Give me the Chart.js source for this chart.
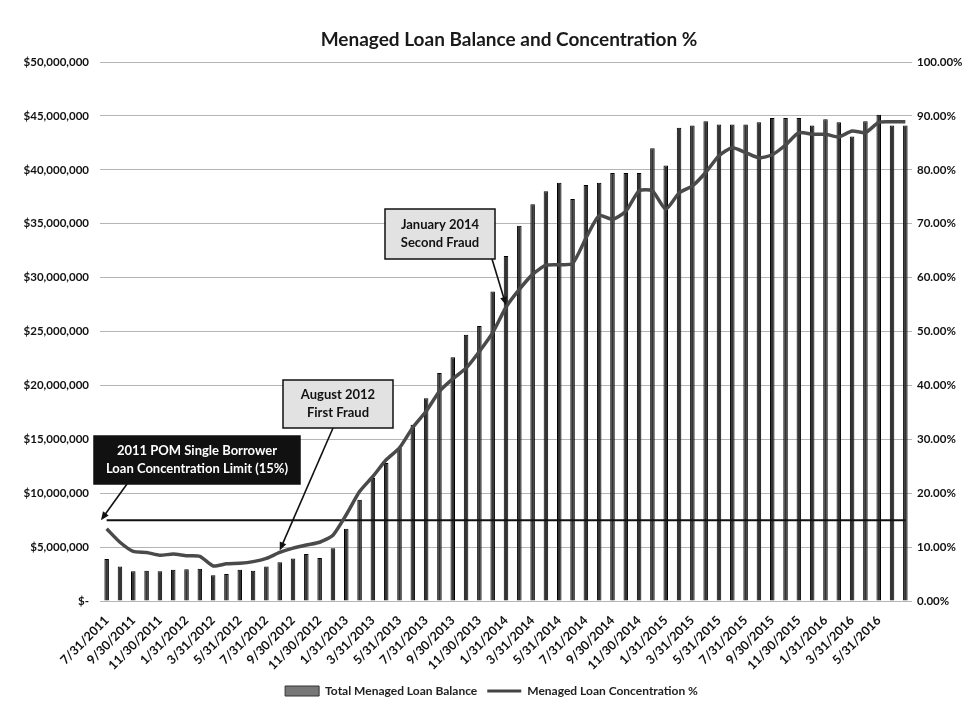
<!DOCTYPE html>
<html>
<head>
<meta charset="utf-8">
<script src="https://cdn.jsdelivr.net/npm/chart.js@4.4.0/dist/chart.umd.min.js"></script>
<style>
  html, body { margin: 0; padding: 0; background: #fff; }
  #wrap { width: 969px; height: 709px; }
</style>
</head>
<body>
<div id="wrap"><canvas id="loanChart" width="969" height="709"></canvas></div>
<script>
// month-end dates, 7/2011 - 7/2016
const months = [
  '7/31/2011', '8/31/2011', '9/30/2011', '10/31/2011', '11/30/2011', '12/31/2011',
  '1/31/2012', '2/29/2012', '3/31/2012', '4/30/2012', '5/31/2012', '6/30/2012',
  '7/31/2012', '8/31/2012', '9/30/2012', '10/31/2012', '11/30/2012', '12/31/2012',
  '1/31/2013', '2/28/2013', '3/31/2013', '4/30/2013', '5/31/2013', '6/30/2013',
  '7/31/2013', '8/31/2013', '9/30/2013', '10/31/2013', '11/30/2013', '12/31/2013',
  '1/31/2014', '2/28/2014', '3/31/2014', '4/30/2014', '5/31/2014', '6/30/2014',
  '7/31/2014', '8/31/2014', '9/30/2014', '10/31/2014', '11/30/2014', '12/31/2014',
  '1/31/2015', '2/28/2015', '3/31/2015', '4/30/2015', '5/31/2015', '6/30/2015',
  '7/31/2015', '8/31/2015', '9/30/2015', '10/31/2015', '11/30/2015', '12/31/2015',
  '1/31/2016', '2/29/2016', '3/31/2016', '4/30/2016', '5/31/2016', '6/30/2016',
  '7/31/2016'
];

// labels printed under the axis (every other month, as in the original)
const shownLabels = [
  '7/31/2011', '9/30/2011', '11/30/2011', '1/31/2012', '3/31/2012', '5/31/2012',
  '7/31/2012', '9/30/2012', '11/30/2012', '1/31/2013', '3/31/2013', '5/31/2013',
  '7/31/2013', '9/30/2013', '11/30/2013', '1/31/2014', '3/31/2014', '5/31/2014',
  '7/31/2014', '9/30/2014', '11/30/2014', '1/31/2015', '3/31/2015', '5/31/2015',
  '7/31/2015', '9/30/2015', '11/30/2015', '1/31/2016', '3/31/2016', '5/31/2016'
];

// Total Menaged Loan Balance ($)
const loanBalance = [
  3900000, 3200000, 2750000, 2800000, 2750000, 2900000,
  2950000, 3000000, 2400000, 2500000, 2900000, 2800000,
  3200000, 3600000, 3950000, 4350000, 4000000, 4900000,
  6700000, 9400000, 11400000, 12800000, 14200000, 16350000,
  18800000, 21150000, 22600000, 24700000, 25500000, 28700000,
  32000000, 34800000, 36800000, 38000000, 38800000, 37300000,
  38600000, 38800000, 39700000, 39700000, 39700000, 42000000,
  40400000, 43900000, 44100000, 44500000, 44200000, 44200000,
  44200000, 44400000, 44800000, 44800000, 44800000, 44100000,
  44700000, 44400000, 43100000, 44500000, 45100000, 44100000,
  44100000
];

// Menaged Loan Concentration (%)
const concentrationPct = [
  13.4, 10.9, 9.2, 9.0, 8.5, 8.7,
  8.4, 8.3, 6.5, 6.9, 7.0, 7.3,
  7.9, 9.0, 9.8, 10.4, 10.9, 12.2,
  16.0, 20.3, 23.1, 26.2, 28.4, 32.2,
  35.2, 38.9, 41.2, 43.2, 46.3, 49.8,
  54.5, 57.8, 60.6, 62.3, 62.4, 62.6,
  67.3, 71.5, 70.8, 72.3, 76.1, 76.1,
  72.7, 75.7, 77.0, 79.5, 82.6, 84.1,
  83.2, 82.2, 82.8, 84.6, 86.9, 86.6,
  86.6, 86.1, 87.2, 86.9, 88.8, 88.9,
  88.9
];

// 2011 POM single borrower limit
const limitLine = [
  { x: '7/31/2011', y: 15 },
  { x: '7/31/2016', y: 15 }
];

const leftTicks = { min: 0, max: 50000000, step: 5000000 };
const rightTicks = { min: 0, max: 100, step: 10 };

const FONT = 'Lato, "Open Sans", sans-serif';

// callout boxes: box = [x, y, w, h], target = month index on the % line or 'limit'
const callouts = [
  { lines: ['2011 POM Single Borrower', 'Loan Concentration Limit (15%)'],
    box: [94, 436, 206, 48], fill: '#111', color: '#fff', from: [127, 484], target: 'limit' },
  { lines: ['August 2012', 'First Fraud'],
    box: [283, 380, 110, 48], fill: '#e2e2e2', color: '#111', from: [333, 428], target: 13 },
  { lines: ['January 2014', 'Second Fraud'],
    box: [385, 209, 110, 50], fill: '#e2e2e2', color: '#111', from: [492, 259], target: 30 }
];

function drawArrow(ctx, x1, y1, x2, y2) {
  const ang = Math.atan2(y2 - y1, x2 - x1);
  const head = 9;
  ctx.save();
  ctx.strokeStyle = '#111';
  ctx.fillStyle = '#111';
  ctx.lineWidth = 1.6;
  ctx.beginPath();
  ctx.moveTo(x1, y1);
  ctx.lineTo(x2 - Math.cos(ang) * head * 0.8, y2 - Math.sin(ang) * head * 0.8);
  ctx.stroke();
  ctx.beginPath();
  ctx.moveTo(x2, y2);
  ctx.lineTo(x2 - head * Math.cos(ang - 0.4), y2 - head * Math.sin(ang - 0.4));
  ctx.lineTo(x2 - head * Math.cos(ang + 0.4), y2 - head * Math.sin(ang + 0.4));
  ctx.closePath();
  ctx.fill();
  ctx.restore();
}

const decorPlugin = {
  id: 'decor',
  afterDatasetsDraw(chart) {
    const { ctx, chartArea, scales } = chart;
    callouts.forEach(c => {
      let tx, ty;
      if (c.target === 'limit') {
        tx = chartArea.left + 1;
        ty = scales.y1.getPixelForValue(15);
      } else {
        tx = scales.x.getPixelForValue(c.target);
        ty = scales.y1.getPixelForValue(concentrationPct[c.target]) - 2;
      }
      drawArrow(ctx, c.from[0], c.from[1], tx, ty);

      const [bx, by, bw, bh] = c.box;
      ctx.save();
      ctx.fillStyle = c.fill;
      ctx.fillRect(bx, by, bw, bh);
      ctx.strokeStyle = '#111';
      ctx.lineWidth = 1.5;
      ctx.strokeRect(bx, by, bw, bh);
      ctx.fillStyle = c.color;
      ctx.font = 'bold 13px ' + FONT;
      ctx.textAlign = 'center';
      ctx.textBaseline = 'middle';
      const gap = 18;
      const y0 = by + bh / 2 - gap / 2;
      c.lines.forEach((t, i) => ctx.fillText(t, bx + bw / 2, y0 + i * gap));
      ctx.restore();
    });

    // title
    ctx.save();
    ctx.fillStyle = '#1a1a1a';
    ctx.font = 'bold 19px ' + FONT;
    ctx.textAlign = 'center';
    ctx.textBaseline = 'middle';
    ctx.fillText('Menaged Loan Balance and Concentration %', (chartArea.left + chartArea.right) / 2 + 3, 40);
    ctx.restore();
  }
};

new Chart(document.getElementById('loanChart'), {
  type: 'bar',
  data: {
    labels: months,
    datasets: [
      {
        label: 'Total Menaged Loan Balance',
        data: loanBalance,
        yAxisID: 'y',
        backgroundColor: '#333',
        borderColor: '#000',
        borderWidth: 1,
        barPercentage: 0.34,
        categoryPercentage: 1,
        order: 3
      },
      {
        type: 'line',
        label: 'Menaged Loan Concentration %',
        data: concentrationPct,
        yAxisID: 'y1',
        borderColor: '#4a4a4a',
        backgroundColor: '#4a4a4a',
        borderWidth: 3.5,
        pointRadius: 0,
        tension: 0.2,
        order: 1
      },
      {
        type: 'line',
        label: 'limit',
        data: limitLine,
        yAxisID: 'y1',
        borderColor: '#111',
        borderWidth: 2,
        pointRadius: 0,
        order: 2
      }
    ]
  },
  options: {
    responsive: false,
    animation: false,
    devicePixelRatio: 1,
    layout: { padding: { top: 62, left: 14, right: 0, bottom: 2 } },
    plugins: {
      title: { display: false },
      tooltip: { enabled: false },
      legend: {
        position: 'bottom',
        labels: {
          filter: item => item.text !== 'limit',
          usePointStyle: true,
          pointStyleWidth: 34,
          boxHeight: 10,
          color: '#222',
          font: { family: FONT, size: 12, weight: 'bold' },
          generateLabels: chart => chart.data.datasets.map((ds, i) => ({
            text: ds.label,
            datasetIndex: i,
            fillStyle: i === 0 ? '#777' : '#444',
            strokeStyle: i === 0 ? '#333' : '#444',
            lineWidth: i === 0 ? 1 : 3,
            pointStyle: i === 0 ? 'rect' : 'line',
            fontColor: '#222'
          }))
        }
      }
    },
    scales: {
      x: {
        grid: { display: false },
        border: { display: false },
        ticks: {
          autoSkip: false,
          minRotation: 45,
          maxRotation: 45,
          padding: 4,
          color: '#111',
          font: { family: FONT, size: 12.5, weight: 'bold' },
          callback: (v, i) => (shownLabels.includes(months[i]) ? months[i] : '')
        },
        afterFit: s => { s.height = 74; }
      },
      y: {
        position: 'left',
        min: leftTicks.min,
        max: leftTicks.max,
        border: { display: false },
        grid: { color: '#b5b5b5', borderDash: [4, 4], lineWidth: 1, drawTicks: false },
        ticks: {
          stepSize: leftTicks.step,
          padding: 11,
          color: '#111',
          font: { family: FONT, size: 11.5, weight: 'bold' },
          callback: v => (v === 0 ? '$-' : '$' + v.toLocaleString('en-US'))
        },
        afterFit: s => { s.width = 86; }
      },
      y1: {
        position: 'right',
        min: rightTicks.min,
        max: rightTicks.max,
        border: { display: false },
        grid: { display: false, drawTicks: false },
        ticks: {
          stepSize: rightTicks.step,
          padding: 5,
          color: '#111',
          font: { family: FONT, size: 11.5, weight: 'bold' },
          callback: v => v.toFixed(2) + '%'
        },
        afterFit: s => { s.width = 57; }
      }
    }
  },
  plugins: [decorPlugin]
});
</script>
</body>
</html>
